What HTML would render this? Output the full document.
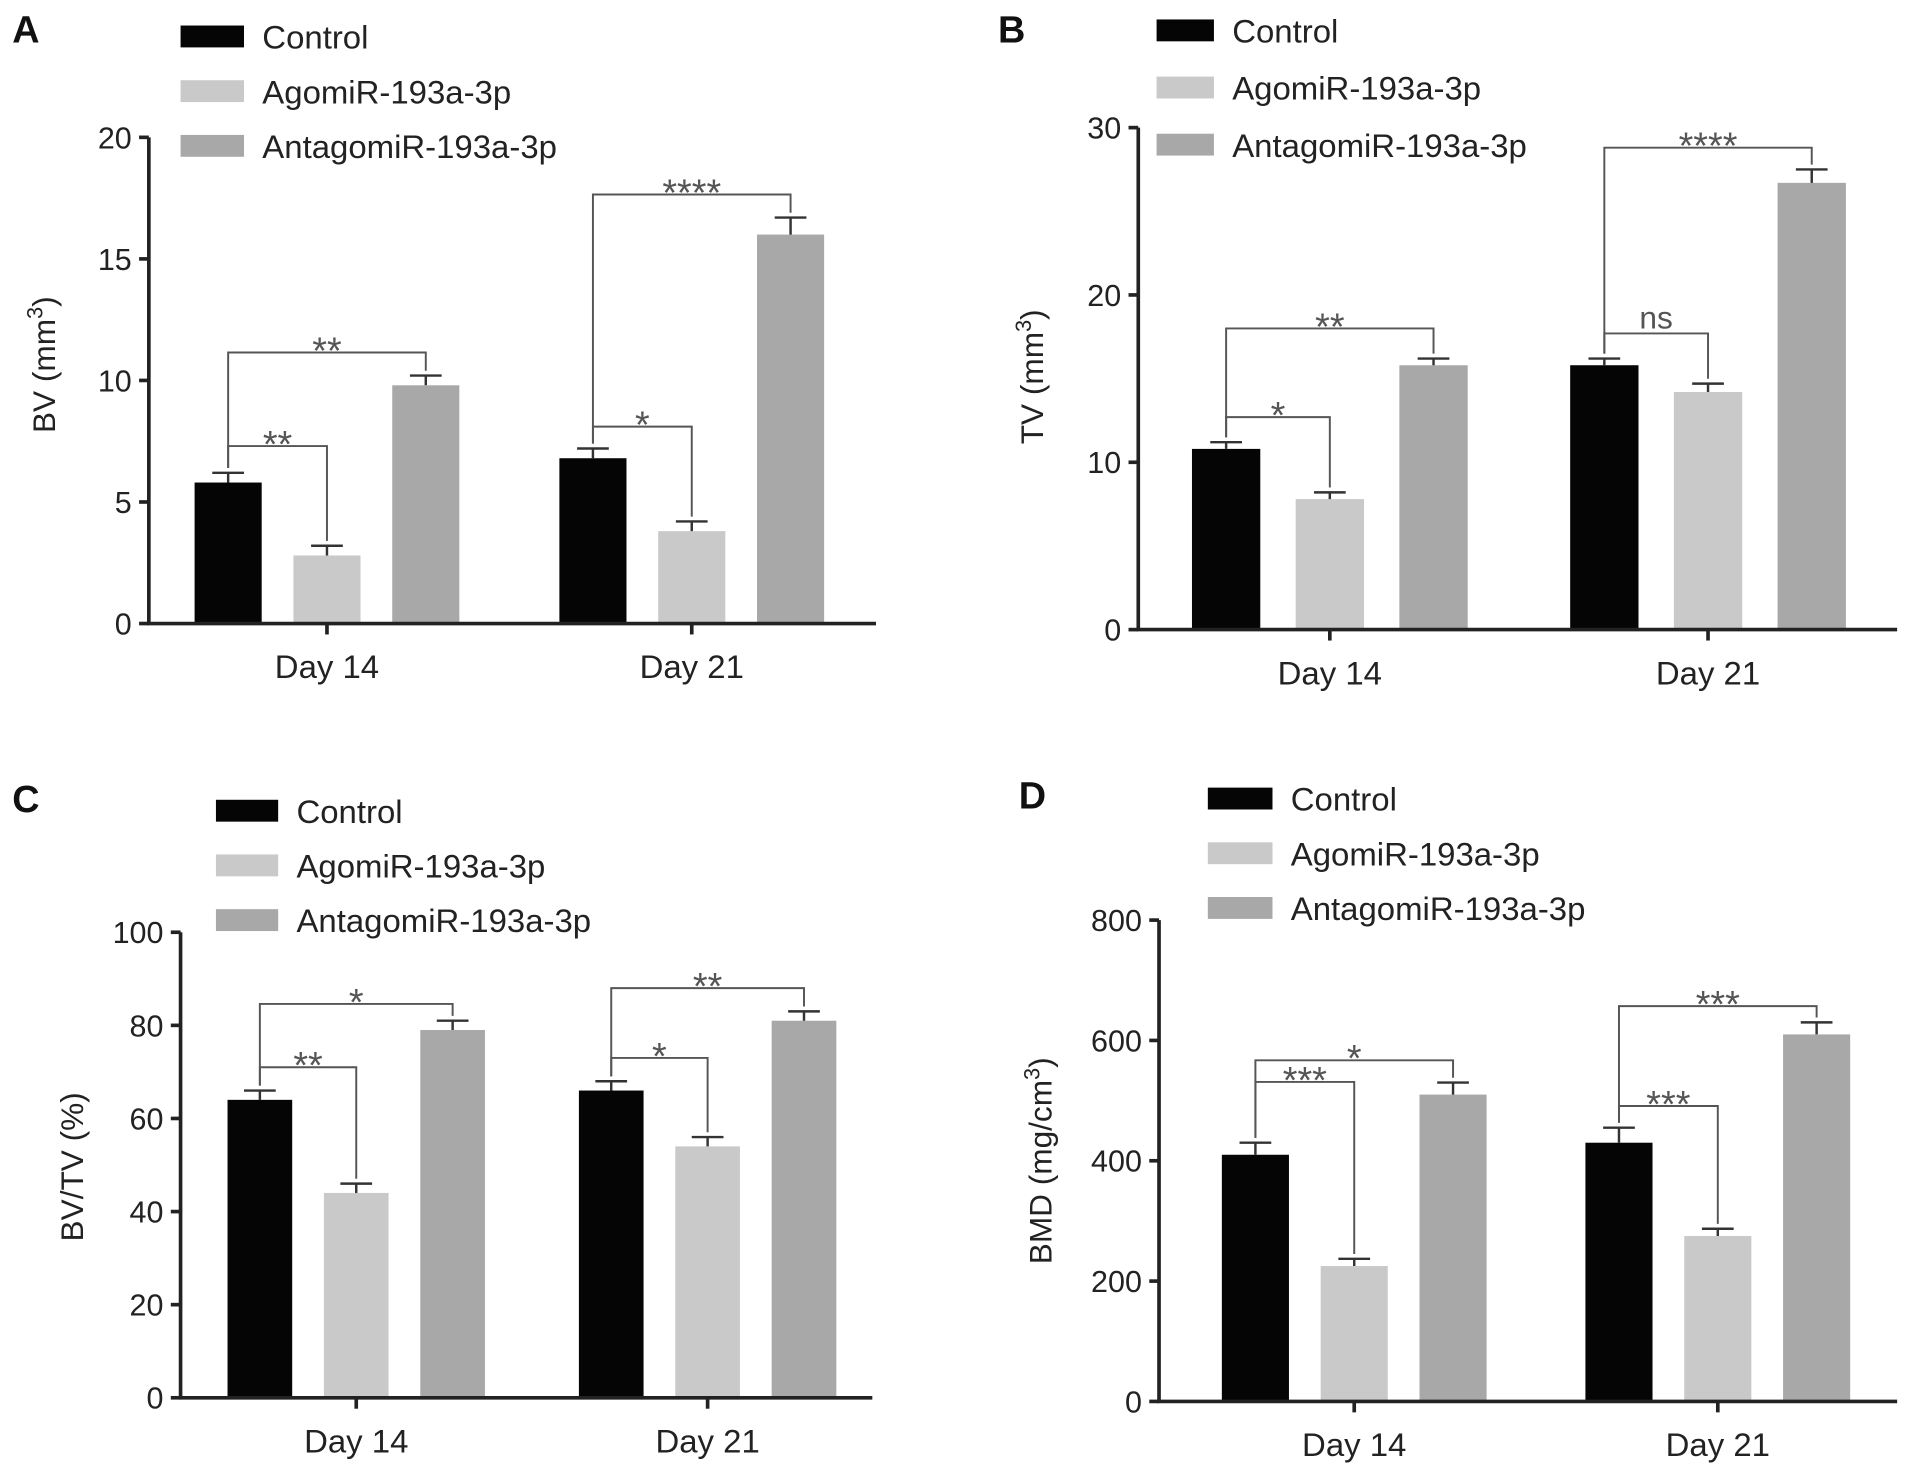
<!DOCTYPE html>
<html><head><meta charset="utf-8"><style>
html,body{margin:0;padding:0;background:#fff;}
svg{display:block;font-family:"Liberation Sans",Arial,sans-serif;}
</style></head><body>
<svg id="fig" width="1913" height="1478" viewBox="0 0 1568 1216" preserveAspectRatio="none" xmlns="http://www.w3.org/2000/svg"></svg>
<script>
// ---- data ----
const categories = ["Day 14", "Day 21"];
const seriesNames = ["Control", "AgomiR-193a-3p", "AntagomiR-193a-3p"];
const seriesColors = ["#050505", "#c9c9c9", "#a8a8a8"];

const bvControl = [5.8, 6.8], bvAgo = [2.8, 3.8], bvAnta = [9.8, 16.0];
const bvErr = [[0.4,0.4],[0.4,0.4],[0.4,0.7]];
const bvTicks = [0,5,10,15,20];
const bvBrackets = [[0,1,7.3,"**"],[0,2,11.15,"**"],[0,1,8.1,"*"],[0,2,17.65,"****"]];

const tvControl = [10.8, 15.8], tvAgo = [7.8, 14.2], tvAnta = [15.8, 26.7];
const tvErr = [[0.4,0.4],[0.4,0.5],[0.4,0.8]];
const tvTicks = [0,10,20,30];
const tvBrackets = [[0,1,12.7,"*"],[0,2,18.0,"**"],[0,1,17.7,"ns"],[0,2,28.8,"****"]];

const bvtvControl = [64, 66], bvtvAgo = [44, 54], bvtvAnta = [79, 81];
const bvtvErr = [[2,2],[2,2],[2,2]];
const bvtvTicks = [0,20,40,60,80,100];
const bvtvBrackets = [[0,1,71,"**"],[0,2,84.6,"*"],[0,1,73,"*"],[0,2,88,"**"]];

const bmdControl = [410, 430], bmdAgo = [225, 275], bmdAnta = [510, 610];
const bmdErr = [[20,25],[12,12],[20,20]];
const bmdTicks = [0,200,400,600,800];
const bmdBrackets = [[0,1,531,"***"],[0,2,567,"*"],[0,1,491,"***"],[0,2,657,"***"]];

const NS = "http://www.w3.org/2000/svg";
const svg = document.getElementById("fig");
function mk(tag, attrs, parent, text){
  const e = document.createElementNS(NS, tag);
  for (const k in attrs) e.setAttribute(k, attrs[k]);
  if (text !== undefined) e.textContent = text;
  (parent||svg).appendChild(e); return e;
}

function panel(cfg){
  const g = mk("g", {});
  
  
  const yMax = cfg.ticks[cfg.ticks.length-1];
  const yS = v => cfg.y0 - (v / yMax) * (cfg.y0 - cfg.yTop);
  const xS = (ci, si) => cfg.centers[ci] + (si - 1) * cfg.step;
  const L = mk("text", {x:cfg.letter[0], y:cfg.letter[1], "font-size":31, fill:"#111", "font-weight":"bold"}, g, cfg.letterText);
  
  
  seriesNames.forEach((n, i) => {
    const ly = cfg.legend[1] + i * cfg.legend[2];
    const r = mk("rect", {x:cfg.legend[0], y:ly-9, width:cfg.legendW, height:18, fill:seriesColors[i]}, g);
    
    
    const t = mk("text", {x:cfg.legend[0]+cfg.legendW+15, y:ly+10, "font-size":27, fill:"#222"}, g, n);
    
    
  });
  cfg.values.forEach((vals, si) => {
    vals.forEach((v, ci) => {
      const cx = xS(ci, si);
      const b = mk("rect", {x:cx-cfg.bw/2, y:yS(v), width:cfg.bw, height:cfg.y0-yS(v), fill:seriesColors[si]}, g);
      
      
      const e = cfg.err[si][ci];
      const ey = yS(v + e);
      const el = mk("path", {d:`M${cx} ${yS(v)}V${ey}M${cx-13} ${ey}H${cx+13}`, stroke:"#333", "stroke-width":2, fill:"none"}, g);
      
      
    });
  });
  cfg.brackets.forEach((br, i) => {
    const ci = i < 2 ? 0 : 1;
    const [a, b, lvl, lab] = br;
    const xa = xS(ci, a), xb = xS(ci, b);
    const ya = yS(cfg.values[a][ci] + cfg.err[a][ci]) - 4;
    const yb = yS(cfg.values[b][ci] + cfg.err[b][ci]) - 4;
    const yl = yS(lvl);
    const p = mk("path", {d:`M${xa} ${ya}V${yl}H${xb}V${yb}`, stroke:"#555", "stroke-width":1.6, fill:"none"}, g);
    
    
    const t = mk("text", {x:(xa+xb)/2, y:yl + (lab==="ns"?-4:9), "font-size":lab==="ns"?26:31, fill:"#555", "text-anchor":"middle"}, g, lab);
    
    
  });
  const ax = mk("path", {d:`M${cfg.x0} ${cfg.yTop}V${cfg.y0}H${cfg.xEnd}`, stroke:"#222", "stroke-width":3, fill:"none"}, g);
  
  
  cfg.ticks.forEach(tv => {
    const y = yS(tv);
    const tk = mk("line", {x1:cfg.x0-8, x2:cfg.x0, y1:y, y2:y, stroke:"#222", "stroke-width":3}, g);
    
    
    const tl = mk("text", {x:cfg.x0-14, y:y+9, "font-size":25, fill:"#222", "text-anchor":"end"}, g, String(tv));
    
    
  });
  categories.forEach((c, ci) => {
    const x = cfg.centers[ci];
    const tk = mk("line", {x1:x, x2:x, y1:cfg.y0, y2:cfg.y0+9, stroke:"#222", "stroke-width":3}, g);
    
    
    const tl = mk("text", {x:x, y:cfg.y0+45, "font-size":27, fill:"#222", "text-anchor":"middle"}, g, c);
    
    
  });
  const yt = mk("text", {x:0, y:0, "font-size":26, fill:"#222", "text-anchor":"middle", transform:`translate(${cfg.ylab[0]},${cfg.ylab[1]}) rotate(-90)`}, g);
  
  
  yt.appendChild(document.createTextNode(cfg.ytitle[0]));
  if (cfg.ytitle[1]) {
    mk("tspan", {dy:-10, "font-size":18}, yt, cfg.ytitle[1]);
    mk("tspan", {dy:10}, yt, cfg.ytitle[2]);
  }
}

panel({name:"panel-a-bv", letterText:"A", letter:[10,35], legend:[148,30,45], legendW:52,
  x0:122, xEnd:718, y0:513, yTop:113, ticks:bvTicks, centers:[268,567], step:81, bw:55,
  values:[bvControl,bvAgo,bvAnta], err:bvErr, brackets:bvBrackets,
  ylab:[45,300], ytitle:["BV (mm","3",")"]});
panel({name:"panel-b-tv", letterText:"B", letter:[818,35], legend:[948,25,47], legendW:47,
  x0:933, xEnd:1555, y0:518, yTop:105, ticks:tvTicks, centers:[1090,1400], step:85, bw:56,
  values:[tvControl,tvAgo,tvAnta], err:tvErr, brackets:tvBrackets,
  ylab:[855,310], ytitle:["TV (mm","3",")"]});
panel({name:"panel-c-bvtv", letterText:"C", letter:[10,668], legend:[177,667,45], legendW:51,
  x0:148, xEnd:715, y0:1150, yTop:767, ticks:bvtvTicks, centers:[292,580], step:79, bw:53,
  values:[bvtvControl,bvtvAgo,bvtvAnta], err:bvtvErr, brackets:bvtvBrackets,
  ylab:[68,960], ytitle:["BV/TV (%)"]});
panel({name:"panel-d-bmd", letterText:"D", letter:[835,665], legend:[990,657,45], legendW:53,
  x0:950, xEnd:1555, y0:1153, yTop:757, ticks:bmdTicks, centers:[1110,1408], step:81, bw:55,
  values:[bmdControl,bmdAgo,bmdAnta], err:bmdErr, brackets:bmdBrackets,
  ylab:[862,955], ytitle:["BMD (mg/cm","3",")"]});
</script>
</body></html>
